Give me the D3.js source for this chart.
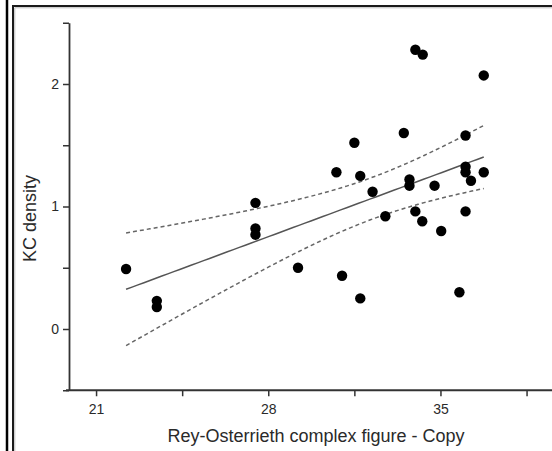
<!DOCTYPE html>
<html>
<head>
<meta charset="utf-8">
<script src="https://cdn.jsdelivr.net/npm/d3@7/dist/d3.min.js"></script>
<style>
  html, body { margin: 0; padding: 0; background: #fff; }
  svg { display: block; }
  text { font-family: "Liberation Sans", Arial, sans-serif; fill: #2a2a2a; }
</style>
</head>
<body>
<svg id="chart" width="552" height="451"></svg>
<script>
// ---- data ----
const copyScore = [22.22, 23.47, 23.47, 27.48, 27.48, 27.48, 29.21, 30.77, 31.0, 31.5,
                   31.74, 31.74, 32.24, 32.76, 33.51, 33.74, 33.74, 33.98, 33.98, 34.28,
                   34.26, 34.76, 35.03, 35.77, 36.02, 36.02, 36.02, 36.02, 36.24, 36.76, 36.76];
const kcDensity = [0.49, 0.23, 0.18, 1.03, 0.82, 0.77, 0.50, 1.28, 0.435, 1.52,
                   1.25, 0.25, 1.12, 0.92, 1.60, 1.22, 1.17, 2.28, 0.96, 2.24,
                   0.88, 1.17, 0.80, 0.30, 1.58, 1.325, 1.28, 0.96, 1.21, 2.07, 1.28];
const xTicks = [21, 24.5, 28, 31.5, 35, 38.5];
const xTickLabels = ["21", "", "28", "", "35", ""];
const yTicks = [-0.5, 0, 0.5, 1, 1.5, 2, 2.5];
const yTickLabels = ["", "0", "", "1", "", "2", ""];
const xTitle = "Rey-Osterrieth complex figure - Copy";
const yTitle = "KC density";

const svg = d3.select("#chart");

// frame
svg.append("line").attr("x1", 7).attr("x2", 7).attr("y1", 0).attr("y2", 451)
  .attr("stroke", "#000").attr("stroke-width", 2.5);
svg.append("path").attr("d", "M13,451 V6 H552")
  .attr("fill", "none").attr("stroke", "#1a1a1a").attr("stroke-width", 2);
svg.append("path").attr("d", "M14.8,451 V7.8 H552")
  .attr("fill", "none").attr("stroke", "#bbb").attr("stroke-width", 1);

const x = d3.scaleLinear().domain([19.9, 40]).range([69, 69 + 20.1 * 24.6]);
const y = d3.scaleLinear().domain([-0.5, 2.5]).range([390.25, 22.75]);

// regression + 95% confidence band
const n = copyScore.length;
const mx = d3.mean(copyScore), my = d3.mean(kcDensity);
let sxx = 0, sxy = 0;
for (let i = 0; i < n; i++) { sxx += (copyScore[i]-mx)**2; sxy += (copyScore[i]-mx)*(kcDensity[i]-my); }
const b = sxy / sxx, a = my - b * mx;
let sse = 0;
for (let i = 0; i < n; i++) sse += (kcDensity[i] - (a + b*copyScore[i]))**2;
const s = Math.sqrt(sse / (n - 2));
const tval = 2.045;
const [xmin, xmax] = d3.extent(copyScore);
const grid = d3.range(0, 61).map(k => xmin + (xmax - xmin) * k / 60);
const band = grid.map(xv => {
  const fit = a + b * xv;
  const h = tval * s * Math.sqrt(1/n + (xv - mx)**2 / sxx);
  return {x: xv, fit, lo: fit - h, hi: fit + h};
});

const line = key => d3.line().x(d => x(d.x)).y(d => y(d[key]));
svg.append("path").datum(band).attr("d", line("hi"))
  .attr("fill", "none").attr("stroke", "#666").attr("stroke-width", 1.5).attr("stroke-dasharray", "4,3");
svg.append("path").datum(band).attr("d", line("lo"))
  .attr("fill", "none").attr("stroke", "#666").attr("stroke-width", 1.5).attr("stroke-dasharray", "4,3");
svg.append("path").datum(band).attr("d", line("fit"))
  .attr("fill", "none").attr("stroke", "#555").attr("stroke-width", 1.5);

// axes
const xAxis = d3.axisBottom(x).tickValues(xTicks).tickSize(6).tickSizeOuter(0)
  .tickFormat((d, i) => xTickLabels[i]);
const gx = svg.append("g").attr("transform", `translate(0,${y(-0.5)})`).call(xAxis);
gx.select(".domain").attr("d", `M66,0H552`);
const yAxis = d3.axisLeft(y).tickValues(yTicks).tickSize(6).tickSizeOuter(0)
  .tickFormat((d, i) => yTickLabels[i]);
const gy = svg.append("g").attr("transform", `translate(${x(19.9)},0)`).call(yAxis);

[gx, gy].forEach(g => {
  g.select(".domain").attr("stroke", "#333").attr("stroke-width", 1.8);
  g.selectAll(".tick line").attr("stroke", "#333").attr("stroke-width", 1.5);
  g.selectAll(".tick text").attr("font-size", 14).attr("font-family", "Liberation Sans, Arial, sans-serif")
    .attr("fill", "#2a2a2a");
});
gx.selectAll(".tick text").attr("dy", 0).attr("y", 24);
gy.selectAll(".tick text").attr("x", -10);

// points
svg.append("g").selectAll("circle").data(copyScore).join("circle")
  .attr("cx", d => x(d)).attr("cy", (d, i) => y(kcDensity[i])).attr("r", 5.2).attr("fill", "#000");

// titles
svg.append("text").attr("x", 316).attr("y", 442).attr("text-anchor", "middle")
  .attr("font-size", 18).text(xTitle);
svg.append("text").attr("transform", "translate(36,218.5) rotate(-90)").attr("text-anchor", "middle")
  .attr("font-size", 18).text(yTitle);
</script>
</body>
</html>
